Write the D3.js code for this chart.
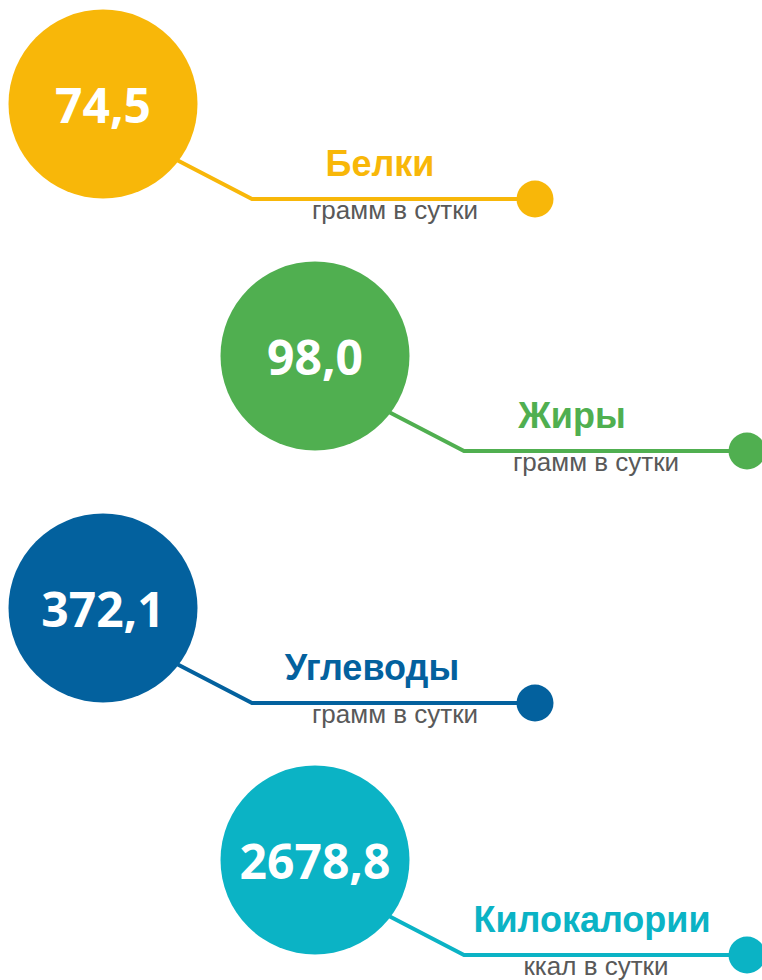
<!DOCTYPE html>
<html>
<head>
<meta charset="utf-8">
<script src="https://cdn.jsdelivr.net/npm/d3@7"></script>
<style>
  body { margin: 0; background: #ffffff; }
  .value { font-family: "Open Sans", sans-serif; font-weight: 700; fill: #ffffff; }
  .name { font-family: "Liberation Sans", Arial, sans-serif; font-weight: 700; }
  .unit { font-family: "Liberation Sans", Arial, sans-serif; fill: #595959; }
</style>
</head>
<body>
<div class="svg-container"></div>
<script>
var width = 762;
var height = 980;

// data
var names = ["Белки", "Жиры", "Углеводы", "Килокалории"];
var values = ["74,5", "98,0", "372,1", "2678,8"];
var units = ["грамм в сутки", "грамм в сутки", "грамм в сутки", "ккал в сутки"];
var colors = ["#F8B709", "#50AF50", "#03619E", "#0BB3C5"];

// small per-row nudges for the bold titles (layout only)
var nameShift = [0, -20, -8, 0];

var svg = d3.select(".svg-container")
            .append("svg")
            .attr("width", width)
            .attr("height", height);

// rows go down the page, circles zig-zag left / right
var scaleY = d3.scalePoint()
               .domain(names)
               .range([104, 860]);

var scaleX = d3.scaleOrdinal()
               .domain([0, 1])
               .range([103, 315]);

var r = 94.5;

var rows = svg.selectAll("g.row")
              .data(names)
              .enter()
              .append("g")
              .attr("class", "row")
              .attr("transform", function(d, i) {
                  return "translate(" + scaleX(i % 2) + "," + scaleY(d) + ")";
              });

// connector: diagonal out of the circle, then along to the end dot
rows.append("path")
    .attr("fill", "none")
    .attr("stroke", function(d, i) { return colors[i]; })
    .attr("stroke-width", 4)
    .attr("d", "M70,54 L149,95 L432,95");

rows.append("circle")
    .attr("r", r)
    .attr("fill", function(d, i) { return colors[i]; });

rows.append("circle")
    .attr("cx", 432)
    .attr("cy", 95)
    .attr("r", 18.5)
    .attr("fill", function(d, i) { return colors[i]; });

rows.append("text")
    .attr("class", "value")
    .attr("x", 0)
    .attr("y", 19)
    .attr("text-anchor", "middle")
    .style("font-size", "48px")
    .text(function(d, i) { return values[i]; });

rows.append("text")
    .attr("class", "name")
    .attr("x", function(d, i) { return 277 + nameShift[i]; })
    .attr("y", 72)
    .attr("text-anchor", "middle")
    .attr("fill", function(d, i) { return colors[i]; })
    .style("font-size", "36px")
    .text(function(d) { return d; });

rows.append("text")
    .attr("class", "unit")
    .attr("x", function(d, i) { return i % 2 ? 281 : 292; })
    .attr("y", 115)
    .attr("text-anchor", "middle")
    .style("font-size", "26px")
    .text(function(d, i) { return units[i]; });
</script>
</body>
</html>
